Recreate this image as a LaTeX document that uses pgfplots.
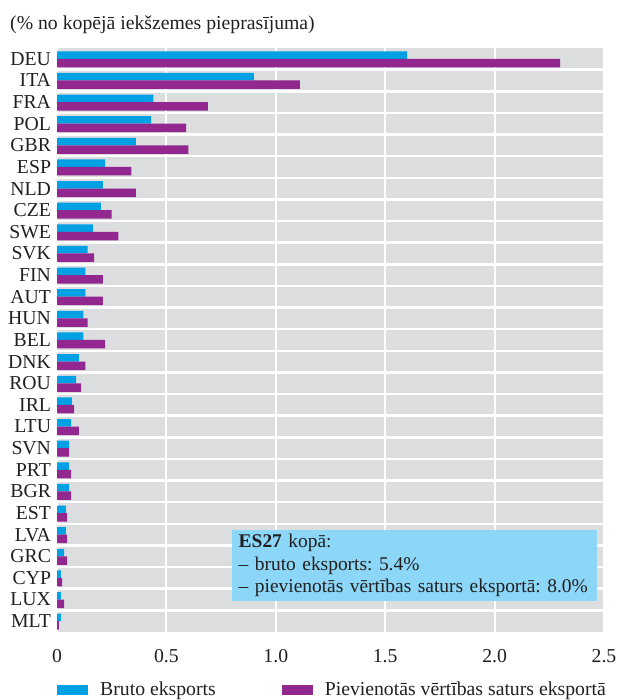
\documentclass[border=0pt]{standalone}
\usepackage{pgfplots}
\usepackage{pgfplotstable}
\pgfplotsset{compat=1.18}
\usepackage{fontspec}
\setmainfont{Liberation Serif}
\frenchspacing
\definecolor{ecbblue}{HTML}{00A1E4}
\definecolor{ecbpurple}{HTML}{92278F}
\definecolor{bggrey}{HTML}{DCDDDE}
\definecolor{boxblue}{HTML}{8CD6F7}
\definecolor{txt}{HTML}{231F20}
\pgfplotstableread{
y gross va
26 1.60 2.30
25 0.90 1.11
24 0.44 0.69
23 0.43 0.59
22 0.36 0.60
21 0.22 0.34
20 0.21 0.36
19 0.20 0.25
18 0.165 0.28
17 0.14 0.17
16 0.13 0.21
15 0.13 0.21
14 0.12 0.14
13 0.12 0.22
12 0.10 0.13
11 0.087 0.11
10 0.068 0.078
9 0.064 0.10
8 0.055 0.055
7 0.055 0.064
6 0.055 0.064
5 0.041 0.046
4 0.041 0.046
3 0.032 0.046
2 0.018 0.023
1 0.018 0.032
0 0.018 0.009
}\data
\begin{document}
\begin{tikzpicture}
\begin{axis}[
  at={(57bp,68bp)}, anchor=south west,
  scale only axis, width=547bp, height=584bp,
  xmin=0, xmax=2.5, ymin=-0.5, ymax=26.5,
  xtick={0,0.5,1,1.5,2,2.5},
  xticklabels={0,0.5,1.0,1.5,2.0,2.5},
  ytick={0,...,26},
  yticklabels={MLT,LUX,CYP,GRC,LVA,EST,BGR,PRT,SVN,LTU,IRL,ROU,DNK,BEL,HUN,AUT,FIN,SVK,SWE,CZE,NLD,ESP,GBR,POL,FRA,ITA,DEU},
  minor ytick={0.5,1.5,...,25.5},
  xmajorgrids, yminorgrids,
  major grid style={white, line width=2bp},
  minor grid style={white, line width=2.5bp},
  axis line style={draw=none},
  major tick length=0, minor tick length=0,
  axis background/.style={fill=bggrey},
  tick label style={font=\fontsize{19.8}{22}\selectfont, text=txt},
  xticklabel style={yshift=-14bp},
  yticklabel style={xshift=-2.5bp},
  legend columns=2,
  legend style={at={(0,-0.0985)}, anchor=west, draw=none, fill=none, inner sep=0pt,
    nodes={inner sep=0pt}, font=\fontsize{19.8}{22}\selectfont, text=txt,
    /tikz/every odd column/.append style={column sep=12bp},
    /tikz/every even column/.append style={column sep=66bp}},
  legend image code/.code={\fill[#1] (0bp,-5bp) rectangle (31bp,5bp);},
]
\addplot[xbar, fill=ecbblue, draw=none, bar width=7.5bp, bar shift=3.75bp] table[x=gross, y=y] {\data};
\addlegendentry{Bruto eksports}
\addplot[xbar, fill=ecbpurple, draw=none, bar width=8.5bp, bar shift=-4.25bp] table[x=va, y=y] {\data};
\addlegendentry{Pievienotās vērtības saturs eksportā}
\node[fill=boxblue, anchor=north west, text width=352bp, inner xsep=6.5bp, inner ysep=4bp,
  align=left, font=\fontsize{19.5}{22.5}\selectfont, text=txt]
  at (axis cs:0.8,4.22) {\textbf{ES27} kopā:\\– bruto eksports: 5.4\%\\– pievienotās vērtības saturs eksportā: 8.0\%};
\end{axis}
\node[anchor=base west, inner sep=0pt, font=\fontsize{19.8}{22}\selectfont, text=txt] at (10bp,670bp) {(\% no kopējā iekšzemes pieprasījuma)};
\pgfresetboundingbox
\path (0,0) rectangle (617bp,700bp);
\end{tikzpicture}
\end{document}
